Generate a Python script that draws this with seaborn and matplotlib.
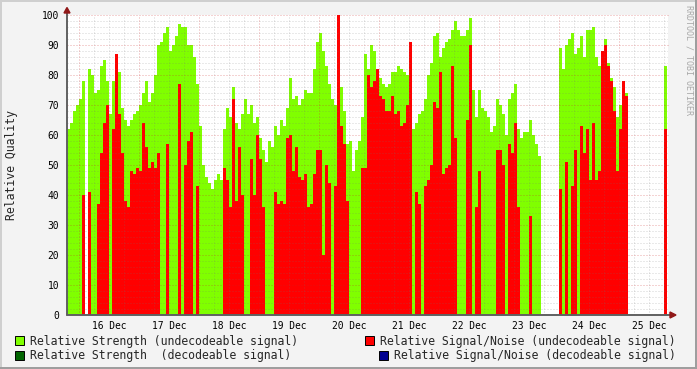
import numpy as np
import pandas as pd
import matplotlib
matplotlib.use("Agg")
import matplotlib.pyplot as plt
from matplotlib.patches import Rectangle, Polygon
import seaborn as sns

# ---------------- data ----------------
# samples every 1.2 h, first sample starts 4.8 h before 16 Dec 00:00
start_hours = -4.8
step_hours = 1.2

strength_undecodeable = [
    62, 64, 68, 70, 72, 78, 0, 82, 80, 74, 75, 83, 85, 78, 67, 78, 84, 81, 69, 65,
    63, 65, 67, 68, 70, 74, 78, 71, 74, 80, 90, 91, 94,
    96, 88, 90, 93, 97, 96, 96, 90, 90, 86, 77, 63, 50, 46, 44, 42, 45, 47, 45,
    62, 69, 66, 76, 64, 62, 67, 72, 67, 70, 64, 66, 59, 55,
    51, 58, 56, 63, 60, 65, 63, 69, 79, 72, 73, 70, 72, 75, 74, 74, 82, 91, 94, 88,
    83, 77, 72, 70, 76, 76, 68, 57, 58, 48, 55, 58, 66, 87,
    82, 90, 88, 81, 79, 77, 76, 77, 81, 81, 83, 82, 81, 80, 91, 62, 64, 67, 68, 72,
    80, 84, 93, 94, 86, 89, 91, 92, 95, 98, 95, 93, 93,
    95, 99, 75, 66, 75, 69, 68, 66, 61, 63, 72, 70, 67, 60, 72, 74, 77, 62, 59, 61,
    61, 65, 60, 57, 53, 0, 0, 0, 0, 0, 0, 89, 82,
    90, 92, 94, 87, 89, 93, 86, 95, 95, 96, 86, 83, 88, 92, 84, 79, 76, 66, 70, 77,
    74, 0, 0, 0, 0, 0, 0, 0, 0, 0, 0, 0, 0, 83,
]
snr_undecodeable = [
    0, 0, 0, 0, 0, 40, 0, 41, 0, 0, 37, 54, 64, 70, 0, 62, 87, 67, 54, 38,
    36, 48, 47, 49, 48, 64, 56, 49, 51, 49, 54, 0, 0,
    57, 0, 0, 0, 77, 0, 50, 58, 61, 0, 43, 0, 0, 0, 0, 0, 0, 0, 0,
    49, 45, 36, 72, 38, 56, 40, 0, 0, 52, 40, 60, 52, 36,
    0, 0, 0, 41, 37, 38, 37, 59, 60, 48, 56, 46, 45, 47, 36, 37, 47, 55, 55, 20,
    50, 44, 0, 43, 100, 63, 57, 38, 0, 0, 0, 0, 49, 49,
    80, 76, 78, 82, 73, 72, 68, 68, 73, 67, 68, 63, 64, 70, 91, 0, 41, 37, 0, 43,
    45, 50, 71, 69, 81, 47, 49, 50, 83, 59, 0, 0, 0,
    65, 90, 0, 36, 48, 0, 0, 0, 0, 0, 55, 55, 50, 0, 57, 54, 64, 36, 0, 0,
    0, 33, 0, 0, 0, 0, 0, 0, 0, 0, 0, 42, 0,
    51, 0, 43, 55, 0, 63, 54, 62, 45, 64, 45, 48, 88, 90, 83, 78, 68, 48, 62, 78,
    73, 0, 0, 0, 0, 0, 0, 0, 0, 0, 0, 0, 0, 62,
]
day_labels = ["16 Dec", "17 Dec", "18 Dec", "19 Dec", "20 Dec",
              "21 Dec", "22 Dec", "23 Dec", "24 Dec", "25 Dec"]
y_ticks = [0, 10, 20, 30, 40, 50, 60, 70, 80, 90, 100]
legend_labels = [
    "Relative Strength (undecodeable signal)",
    "Relative Signal/Noise (undecodeable signal)",
    "Relative Strength  (decodeable signal)",
    "Relative Signal/Noise (decodeable signal)",
]
y_label = "Relative Quality"
watermark = "RRDTOOL / TOBI OETIKER"

GREEN = "#80FF00"
RED = "#FF0000"
DKGREEN = "#006400"
BLUE = "#000090"
BACK = "#F3F3F3"

# ---------------- figure ----------------
sns.set_style("white")
plt.rcParams["font.family"] = ["DejaVu Sans Mono", "DejaVu Sans"]

W, H = 697, 369
fig = plt.figure(figsize=(W / 100, H / 100), dpi=100, facecolor=BACK)

def fx(x):
    return x / W

def fy(y):
    return 1 - y / H

PL, PR, PB, PT = 67, 668, 315, 15
ax = fig.add_axes([fx(PL), fy(PB), (PR - PL) / W, (PB - PT) / H])
ax.set_facecolor("white")

n = len(strength_undecodeable)
t = start_hours + step_hours * (np.arange(n) + 0.5)
df = pd.DataFrame({"t": t, "strength": strength_undecodeable, "snr": snr_undecodeable})

common = dict(native_scale=True, width=1.0, saturation=1, linewidth=0,
              errorbar=None, orient="x", antialiased=False, ax=ax)
sns.barplot(data=df, x="t", y="strength", color=GREEN, zorder=2, **common)
sns.barplot(data=df, x="t", y="snr", color=RED, zorder=3, **common)

x0 = start_hours
x1 = start_hours + (PR - PL) / 2.5
ax.set_xlim(x0, x1)
ax.set_ylim(0, 100)

# grid (drawn above the data like rrdtool), light dotted
minor_c = (0.45, 0.45, 0.45, 0.30)
major_c = (0.80, 0.15, 0.15, 0.40)
dot = (0, (1, 2))
gkw = dict(lw=0.72, ls=dot, antialiased=True)
for v in range(2, 100, 2):
    if v % 10:
        ax.axhline(v, color=minor_c, zorder=5, **gkw)
for h in range(6, int(x1) + 1, 6):
    if h % 24:
        ax.axvline(h, color=minor_c, zorder=5, **gkw)
for v in range(10, 101, 10):
    ax.axhline(v, color=major_c, zorder=6, clip_on=False, **gkw)
for h in range(0, int(x1) + 1, 24):
    ax.axvline(h, color=major_c, zorder=6, **gkw)

for s in ax.spines.values():
    s.set_visible(False)

# ticks
ax.set_yticks(y_ticks)
ax.set_yticklabels([str(v) for v in y_ticks])
ax.tick_params(axis="y", length=0, pad=5.8, labelsize=6.9, colors="black")
midnights = list(range(0, 24 * len(day_labels), 24))
ax.set_xticks(midnights)
ax.set_xticklabels([])
ax.set_xticks([m + 12 for m in midnights], minor=True)
ax.set_xticklabels(day_labels, minor=True)
ax.tick_params(axis="x", which="major", length=2.2, width=0.8, color="#B06060", direction="out")
ax.tick_params(axis="x", which="minor", length=0, pad=4.3, labelsize=6.9, labelcolor="black")
ax.set_xlabel("")
ax.set_ylabel("")

# axis lines with arrows
AX_C = "#606060"
ARR_C = "#901818"
fig.add_artist(plt.Line2D([fx(PL), fx(PL)], [fy(PB), fy(11)], color=AX_C, lw=1.4,
                          transform=fig.transFigure, zorder=10))
fig.add_artist(plt.Line2D([fx(PL), fx(672)], [fy(PB), fy(PB)], color=AX_C, lw=1.4,
                          transform=fig.transFigure, zorder=10))
fig.add_artist(Polygon([(fx(64), fy(13)), (fx(70), fy(13)), (fx(67), fy(7.5))],
                       closed=True, color=ARR_C, transform=fig.transFigure, zorder=11))
fig.add_artist(Polygon([(fx(670), fy(312)), (fx(670), fy(318)), (fx(676), fy(315))],
                       closed=True, color=ARR_C, transform=fig.transFigure, zorder=11))

# y label and watermark
fig.text(fx(12), fy(165), y_label, rotation=90, ha="center", va="center", fontsize=8.3)
fig.text(fx(688.5), fy(5), watermark, rotation=-90, ha="center", va="top",
         fontsize=6, color="#A8A8A8")

# legend
entries = [
    (15, 345, GREEN, legend_labels[0]),
    (365, 345, RED, legend_labels[1]),
    (15, 359.5, DKGREEN, legend_labels[2]),
    (379, 359.5, BLUE, legend_labels[3]),
]
for x, base, col, lab in entries:
    fig.add_artist(Rectangle((fx(x), fy(base)), 9 / W, 9 / H, facecolor=col,
                             edgecolor="black", lw=0.7, transform=fig.transFigure))
    fig.text(fx(x + 15), fy(base), lab, ha="left", va="baseline", fontsize=8.3)

# frame shading
fig.add_artist(Rectangle((0, 1 - 2 / H), 1, 2 / H, facecolor="#CFCFCF", lw=0, transform=fig.transFigure))
fig.add_artist(Rectangle((0, 0), 2 / W, 1, facecolor="#CFCFCF", lw=0, transform=fig.transFigure))
fig.add_artist(Rectangle((0, 0), 1, 2 / H, facecolor="#9E9E9E", lw=0, transform=fig.transFigure))
fig.add_artist(Rectangle((1 - 2 / W, 0), 2 / W, 1, facecolor="#9E9E9E", lw=0, transform=fig.transFigure))

fig.savefig("out.png", dpi=100, facecolor=BACK)
